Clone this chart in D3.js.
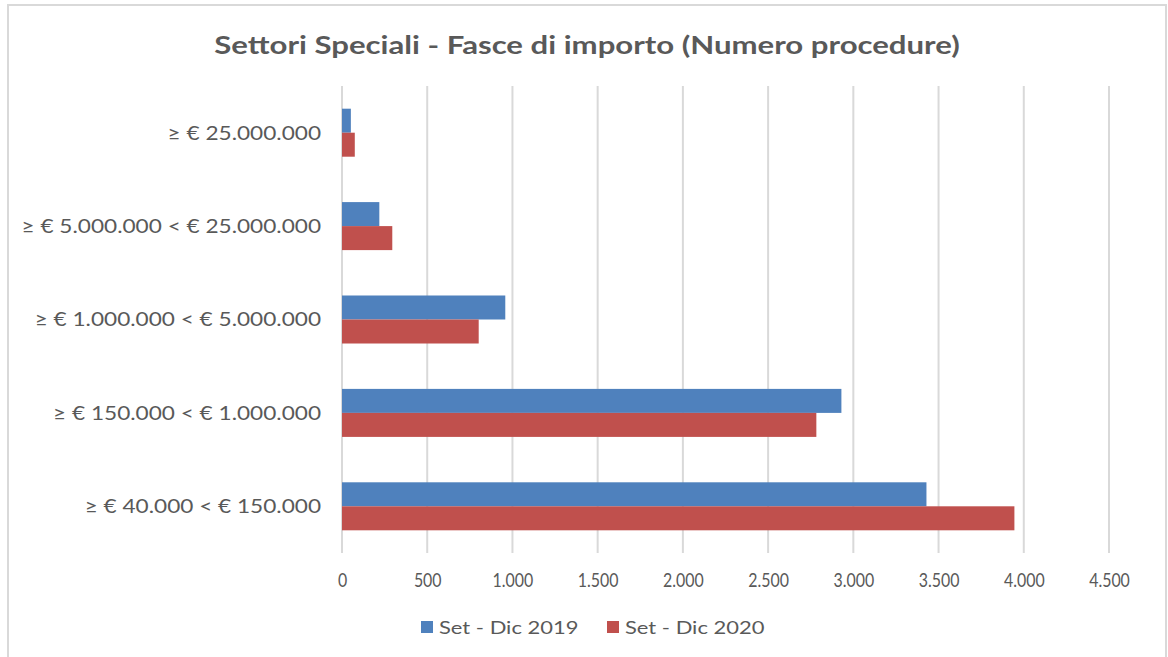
<!DOCTYPE html>
<html><head><meta charset="utf-8">
<script src="https://cdn.jsdelivr.net/npm/d3@7"></script>
<style>body{margin:0;background:#fff}svg{display:block}</style>
</head><body>
<script>
const categories = ["≥ € 25.000.000", "≥ € 5.000.000 < € 25.000.000", "≥ € 1.000.000 < € 5.000.000", "≥ € 150.000 < € 1.000.000", "≥ € 40.000 < € 150.000"];
const seriesNames = ["Set - Dic 2019", "Set - Dic 2020"];
const values2019 = [52, 219, 958, 2930, 3429];
const values2020 = [75, 295, 802, 2783, 3945];
const tickValues = [0, 500, 1000, 1500, 2000, 2500, 3000, 3500, 4000, 4500];
const tickLabels = ["0", "500", "1.000", "1.500", "2.000", "2.500", "3.000", "3.500", "4.000", "4.500"];
const colors = ["#4F81BD", "#C0504D"];

const W = 1168, H = 657;
const font = "Lato, 'Open Sans', sans-serif";
const txt = "#595959";
const svg = d3.select("body").append("svg").attr("width", W).attr("height", H);
svg.append("rect").attr("x", 8).attr("y", 5).attr("width", 1158).attr("height", 660)
  .attr("fill", "#fff").attr("stroke", "#d9d9d9").attr("stroke-width", 2);

function stretch(sel, k) {
  sel.each(function() {
    const w = this.getComputedTextLength();
    d3.select(this).attr("textLength", w * k).attr("lengthAdjust", "spacingAndGlyphs");
  });
}

const x = d3.scaleLinear().domain([0, 4500]).range([342, 1109]);
const y = d3.scaleBand().domain(categories).range([86, 553]).paddingInner(0.486).paddingOuter(0.243);
const ys = d3.scaleBand().domain(seriesNames).range([0, y.bandwidth()]);

// gridlines
svg.append("g").selectAll("line").data(tickValues).join("line")
  .attr("x1", d => x(d)).attr("x2", d => x(d)).attr("y1", 86).attr("y2", 553)
  .attr("stroke", "#d9d9d9").attr("stroke-width", 2);

// bars
const data = categories.map((c, i) => ({c, vals: [values2019[i], values2020[i]]}));
const g = svg.append("g");
data.forEach(d => {
  d.vals.forEach((v, j) => {
    g.append("rect").attr("x", x(0)).attr("y", y(d.c) + ys(seriesNames[j]))
      .attr("width", x(v) - x(0)).attr("height", ys.bandwidth()).attr("fill", colors[j]);
  });
});

// x axis
const xAxis = d3.axisBottom(x).tickValues(tickValues).tickFormat((d, i) => tickLabels[i]).tickSize(0).tickPadding(0);
const xa = svg.append("g").attr("transform", "translate(0,587)").call(xAxis);
xa.select(".domain").remove();
xa.selectAll("text").attr("fill", txt).attr("font-family", font).attr("font-size", 18.5).attr("dy", 0);
stretch(xa.selectAll("text"), 0.86);

// y axis
const yAxis = d3.axisLeft(y).tickSize(0).tickPadding(0);
const ya = svg.append("g").attr("transform", "translate(321,0)").call(yAxis);
ya.select(".domain").remove();
ya.selectAll("text").attr("fill", txt).attr("font-family", font).attr("font-size", 19).attr("dy", "0.36em");
stretch(ya.selectAll("text"), 1.19);

// title
const title = svg.append("text").attr("x", 587).attr("y", 54).attr("text-anchor", "middle")
  .attr("font-family", font).attr("font-weight", "bold").attr("font-size", 25).attr("fill", txt)
  .text("Settori Speciali - Fasce di importo (Numero procedure)");
stretch(title, 1.245);

// legend
const legX = [421, 607];
seriesNames.forEach((s, i) => {
  svg.append("rect").attr("x", legX[i]).attr("y", 621).attr("width", 12).attr("height", 12).attr("fill", colors[i]);
  const t = svg.append("text").attr("x", legX[i] + 18).attr("y", 634).attr("font-family", font).attr("font-size", 18)
    .attr("fill", txt).text(s);
  stretch(t, 1.22);
});
</script>
</body></html>
